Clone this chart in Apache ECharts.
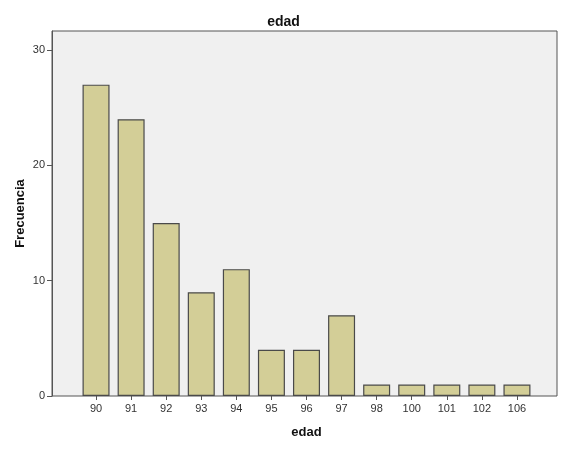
<!DOCTYPE html>
<html>
<head>
<meta charset="utf-8">
<script src="https://cdn.jsdelivr.net/npm/echarts@6/dist/echarts.min.js"></script>
<style>
  html, body { margin: 0; padding: 0; background: #fff; }
  #chart { width: 567px; height: 450px; }
</style>
</head>
<body>
<div id="chart"></div>
<script>
const edades = ['90', '91', '92', '93', '94', '95', '96', '97', '98', '100', '101', '102', '106']
const frecuencias = [27, 24, 15, 9, 11, 4, 4, 7, 1, 1, 1, 1, 1]
const yTicks = [0, 10, 20, 30]

const font = 'Arial, "Liberation Sans", sans-serif'
const chart = echarts.init(document.getElementById('chart'))
chart.setOption({
  animation: false,
  title: {
    text: 'edad',
    left: 'center',
    top: 10,
    textStyle: { fontFamily: font, fontSize: 14, fontWeight: 'bold', color: '#111' },
  },
  grid: [
    // frame with the grey background
    { left: 52, right: 10, top: 31, bottom: 54, show: true, backgroundColor: '#f0f0f0', borderColor: '#555', borderWidth: 1 },
    // inner grid holding the bars (SPSS leaves extra space at the sides)
    { left: 78.5, right: 32.5, top: 31, bottom: 54 },
  ],
  xAxis: [
    { gridIndex: 0, type: 'value', show: false, min: 0, max: 1 },
    {
      gridIndex: 1,
      type: 'category',
      data: edades,
      axisLine: { show: false },
      axisTick: { show: true, alignWithLabel: true, length: 4, lineStyle: { color: '#555' } },
      axisLabel: { fontFamily: font, fontSize: 11, color: '#333', margin: 7 },
      name: 'edad',
      nameLocation: 'middle',
      nameGap: 30,
      nameTextStyle: { fontFamily: font, fontSize: 13, fontWeight: 'bold', color: '#111' },
    },
  ],
  yAxis: [
    {
      gridIndex: 0,
      type: 'value',
      min: 0,
      max: 31.65,
      axisLine: { show: true, lineStyle: { color: '#555' } },
      axisTick: { show: true, length: 5, customValues: yTicks, lineStyle: { color: '#555' } },
      axisLabel: { fontFamily: font, fontSize: 11, color: '#333', margin: 7, customValues: yTicks },
      splitLine: { show: false },
      name: 'Frecuencia',
      nameLocation: 'middle',
      nameGap: 25,
      nameMoveOverlap: false,
      nameTextStyle: { fontFamily: font, fontSize: 13, fontWeight: 'bold', color: '#111' },
    },
    { gridIndex: 1, type: 'value', min: 0, max: 31.65, show: false, splitLine: { show: false } },
  ],
  series: [
    {
      name: 'edad',
      type: 'bar',
      xAxisIndex: 1,
      yAxisIndex: 1,
      data: frecuencias,
      barWidth: '77%',
      itemStyle: { color: '#d3ce97', borderColor: '#4a4a4a', borderWidth: 1.2 },
    },
  ],
})
</script>
</body>
</html>
